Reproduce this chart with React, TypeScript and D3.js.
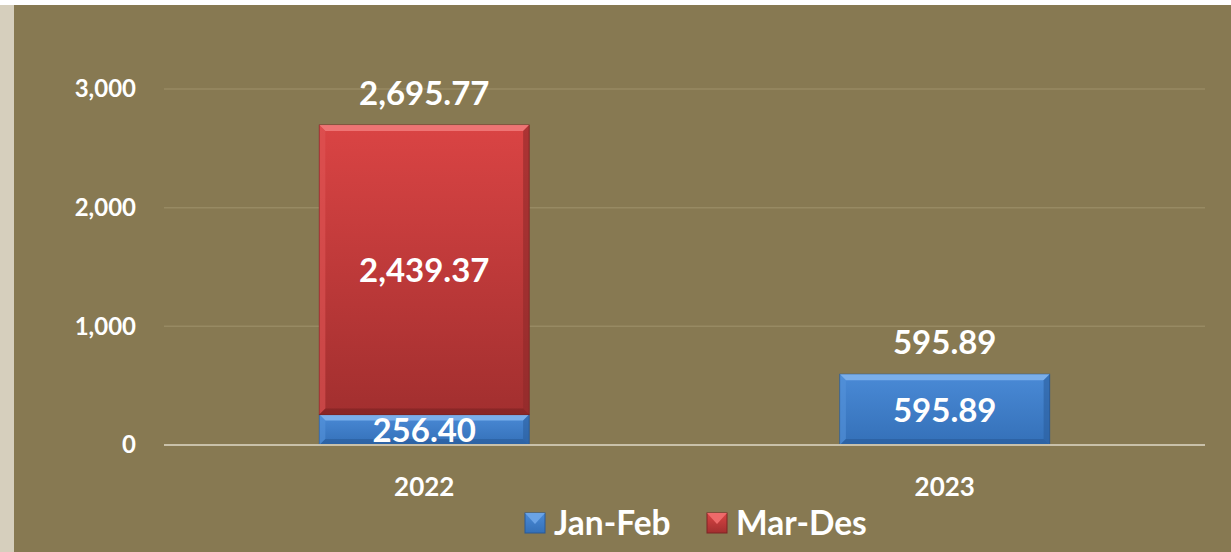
import React from "react";
import * as d3 from "d3";

const categories = ["2022", "2023"];
const janFeb = [256.4, 595.89];
const marDes = [2439.37, 0];
const totals = [2695.77, 595.89];
const yTicks = [0, 1000, 2000, 3000];
const seriesNames = ["Jan-Feb", "Mar-Des"];

const W = 1231, H = 552;
const FONT = "Lato, 'Open Sans', sans-serif";

export default function App() {
  const x = d3.scaleBand<string>().domain(categories).range([164, 1205]).paddingInner(0.597).paddingOuter(0.2985);
  const y = d3.scaleLinear().domain([0, 3000]).range([445, 89]);
  const fmt = d3.format(",.2f");
  const bw = x.bandwidth();
  const bev = 6;

  const bar = (cx: number, y0: number, y1: number, kind: "blue" | "red", key: string) => {
    const h = y0 - y1;
    const x0 = cx;
    const x1 = cx + bw;
    return (
      <g key={key}>
        <rect x={x0} y={y1} width={bw} height={h} fill={`url(#grad-${kind})`} stroke={kind === "blue" ? "#2a5a96" : "#7e2424"} strokeWidth={1} />
        <polygon points={`${x0},${y1} ${x1},${y1} ${x1 - bev},${y1 + bev} ${x0 + bev},${y1 + bev}`} fill={kind === "blue" ? "#7fb2ec" : "#f07a7a"} opacity={0.9} />
        <polygon points={`${x0},${y1} ${x0 + bev},${y1 + bev} ${x0 + bev},${y0 - bev} ${x0},${y0}`} fill={kind === "blue" ? "#5592da" : "#e05555"} opacity={0.6} />
        <polygon points={`${x1},${y1} ${x1 - bev},${y1 + bev} ${x1 - bev},${y0 - bev} ${x1},${y0}`} fill={kind === "blue" ? "#2c5f9e" : "#8e2a2a"} opacity={0.6} />
        <polygon points={`${x0},${y0} ${x1},${y0} ${x1 - bev},${y0 - bev} ${x0 + bev},${y0 - bev}`} fill={kind === "blue" ? "#285a98" : "#7a2222"} opacity={0.6} />
      </g>
    );
  };

  return (
    <svg width={W} height={H} style={{ position: "absolute", left: 0, top: 0 }}>
      <defs>
        <linearGradient id="grad-blue" x1="0" y1="0" x2="0" y2="1">
          <stop offset="0" stopColor="#4a8ad6" />
          <stop offset="1" stopColor="#3470b8" />
        </linearGradient>
        <linearGradient id="grad-red" x1="0" y1="0" x2="0" y2="1">
          <stop offset="0" stopColor="#da4444" />
          <stop offset="1" stopColor="#a22f2f" />
        </linearGradient>
      </defs>
      <rect x={0} y={0} width={W} height={H} fill="#ffffff" />
      <rect x={0} y={5} width={14} height={H - 5} fill="#d6cfbd" />
      <rect x={14} y={5} width={W - 14} height={H - 5} fill="#877952" />
      {yTicks.filter((t) => t > 0).map((t) => (
        <line key={t} x1={164} x2={1205} y1={y(t)} y2={y(t)} stroke="#978a63" strokeWidth={1.5} />
      ))}
      {yTicks.map((t) => (
        <text key={"l" + t} x={136} y={y(t)} dy="0.35em" textAnchor="end" fill="#ffffff" fontFamily={FONT} fontWeight={700} fontSize={24}>
          {d3.format(",")(t)}
        </text>
      ))}
      {categories.map((c, i) => {
        const bx = x(c)!;
        const parts = [] as React.ReactNode[];
        parts.push(bar(bx, y(0), y(janFeb[i]), "blue", "b" + i));
        if (marDes[i] > 0) parts.push(bar(bx, y(janFeb[i]), y(janFeb[i] + marDes[i]), "red", "r" + i));
        return <g key={c}>{parts}</g>;
      })}
      <line x1={164} x2={1205} y1={y(0)} y2={y(0)} stroke="#c9c1aa" strokeWidth={2} />
      {categories.map((c, i) => {
        const cx = x(c)! + bw / 2;
        return (
          <g key={"t" + c} fill="#ffffff" fontFamily={FONT} fontWeight={700} textAnchor="middle">
            <text x={cx} y={y(janFeb[i] / 2)} dy="0.36em" fontSize={33}>{fmt(janFeb[i])}</text>
            {marDes[i] > 0 && (
              <text x={cx} y={y(janFeb[i] + marDes[i] / 2)} dy="0.36em" fontSize={33}>{fmt(marDes[i])}</text>
            )}
            <text x={cx} y={y(totals[i]) - 32} dy="0.36em" fontSize={33}>{fmt(totals[i])}</text>
            <text x={cx} y={487} dy="0.36em" fontSize={26}>{c}</text>
          </g>
        );
      })}
      {seriesNames.map((s, i) => {
        const lx = i === 0 ? 525 : 707;
        const kind = i === 0 ? "blue" : "red";
        return (
          <g key={s}>
            <rect x={lx} y={513} width={20} height={20} fill={`url(#grad-${kind})`} stroke={i === 0 ? "#2a5a96" : "#7e2424"} />
            <polygon points={`${lx},${513} ${lx + 20},${513} ${lx + 10},${524}`} fill={i === 0 ? "#6aa3e6" : "#ee6a6a"} />
            <text x={lx + 29} y={523} dy="0.36em" fill="#ffffff" fontFamily={FONT} fontWeight={700} fontSize={33.5}>{s}</text>
          </g>
        );
      })}
    </svg>
  );
}
